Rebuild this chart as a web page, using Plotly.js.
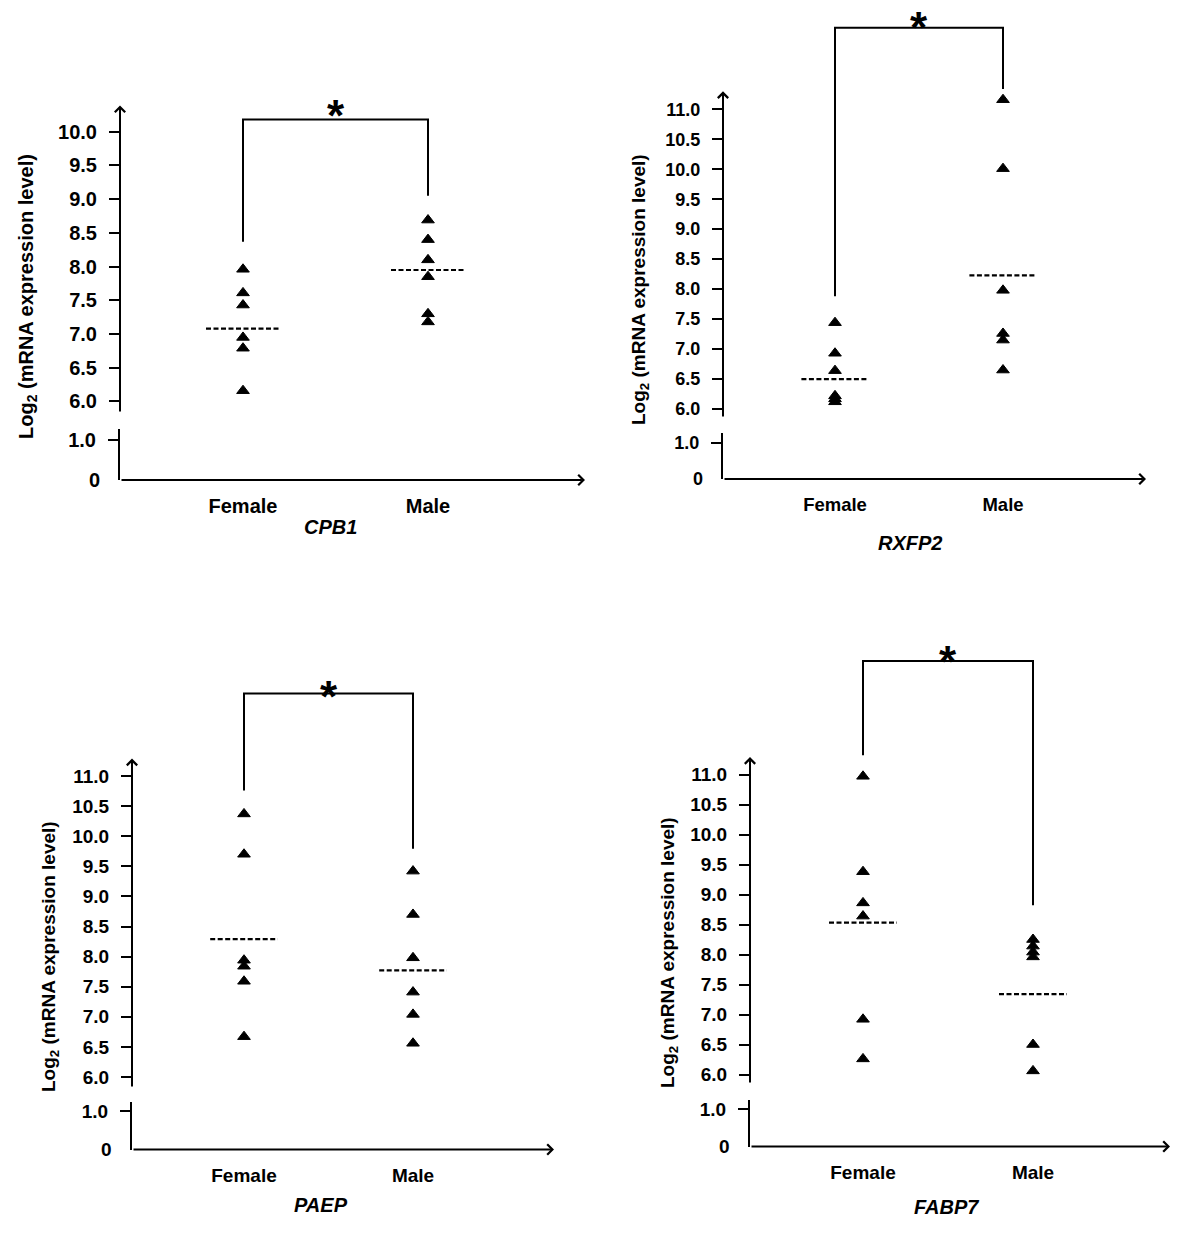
<!DOCTYPE html>
<html><head><meta charset="utf-8">
<script src="https://cdn.plot.ly/plotly-3.0.1.min.js"></script>
<style>html,body{margin:0;padding:0;background:#fff}</style>
</head><body><div id="chart" style="width:1200px;height:1237px"></div>
<script>
// ---------------- data ----------------
const groups = ["Female", "Male"];
const genes = ["CPB1", "RXFP2", "PAEP", "FABP7"];

const cpb1Female  = [7.96, 7.61, 7.43, 6.95, 6.79, 6.16];
const cpb1Male    = [8.69, 8.40, 8.10, 7.85, 7.30, 7.18];
const rxfp2Female = [7.44, 6.93, 6.64, 6.22, 6.17, 6.12];
const rxfp2Male   = [11.16, 10.01, 7.98, 7.26, 7.15, 6.65];
const paepFemale  = [10.37, 9.70, 7.94, 7.84, 7.59, 6.67];
const paepMale    = [9.42, 8.70, 7.98, 7.41, 7.04, 6.56];
const fabp7Female = [10.97, 9.38, 8.86, 8.64, 6.92, 6.26];
const fabp7Male   = [8.25, 8.14, 8.04, 7.96, 6.50, 6.06];

const medianFemale = [7.08, 6.50, 8.29, 8.53];
const medianMale   = [7.95, 8.23, 7.77, 7.34];

// significance brackets (value units)
const bracketTop   = [10.18, 12.36, 12.37, 12.89];
const bracketLeft  = [8.37, 7.88, 10.76, 11.32];
const bracketRight = [9.05, 11.34, 9.79, 8.82];
const sigLabel = ["*", "*", "*", "*"];

const upperTicks = [
  [6.0, 6.5, 7.0, 7.5, 8.0, 8.5, 9.0, 9.5, 10.0],
  [6.0, 6.5, 7.0, 7.5, 8.0, 8.5, 9.0, 9.5, 10.0, 10.5, 11.0],
  [6.0, 6.5, 7.0, 7.5, 8.0, 8.5, 9.0, 9.5, 10.0, 10.5, 11.0],
  [6.0, 6.5, 7.0, 7.5, 8.0, 8.5, 9.0, 9.5, 10.0, 10.5, 11.0]
];
const lowerTicks = [0, 1.0];
const yTitle = "Log<sub>2</sub> (mRNA expression level)";

const femaleSets = [cpb1Female, rxfp2Female, paepFemale, fabp7Female];
const maleSets = [cpb1Male, rxfp2Male, paepMale, fabp7Male];

// ---------------- geometry (pixels) ----------------
const W = 1200, H = 1237;
const FONT = "Liberation Sans, Arial, Helvetica, sans-serif";
const panels = [
  {axisX:120, xEnd:585, cat:[243,428], tA:[10,131.7], tB:[6,401.5], upBottom:413, upTopVal:10.5, arrowTip:10.39,
   xAxisY:480, tick1Y:440, lowTop:429, tickFont:20, catFont:20, titleFont:20, title:[27,297], gene:[330,527], starShift:4},
  {axisX:723, xEnd:1146, cat:[835,1003], tA:[11,109.3], tB:[6,409], upBottom:418, upTopVal:12.75, arrowTip:11.3,
   xAxisY:479, tick1Y:443, lowTop:433, tickFont:18, catFont:18.5, titleFont:19, title:[640,290], gene:[910,543], starShift:0},
  {axisX:132, xEnd:554, cat:[244,413], tA:[11,776], tB:[6,1077], upBottom:1088, upTopVal:12.75, arrowTip:11.29,
   xAxisY:1149.5, tick1Y:1111, lowTop:1102, tickFont:19, catFont:19, titleFont:19, title:[50,957], gene:[321,1205], starShift:-3},
  {axisX:750, xEnd:1170, cat:[863,1033], tA:[11,774.5], tB:[6,1074.5], upBottom:1084, upTopVal:13.25, arrowTip:11.29,
   xAxisY:1146.5, tick1Y:1109, lowTop:1100, tickFont:19, catFont:19, titleFont:19, title:[669,953], gene:[946,1207], starShift:0}
];

const TICKLEN = 10, STANDOFF = 8, MEDIAN_HALF = 0.2;
const px = v => v / W;
const py = v => 1 - v / H;

const traces = [];
const layout = {
  width: W, height: H, margin: {l:0, r:0, t:0, b:0},
  paper_bgcolor: "#fff", plot_bgcolor: "rgba(0,0,0,0)",
  showlegend: false, hovermode: false,
  font: {family: FONT, color: "#000"},
  annotations: [], shapes: []
};

panels.forEach((p, i) => {
  const xid = i === 0 ? "x" : "x" + (i + 1);
  const yUpN = 2 * i + 1, yLowN = 2 * i + 2;
  const yUp = yUpN === 1 ? "y" : "y" + yUpN;
  const yLow = "y" + yLowN;
  const xKey = i === 0 ? "xaxis" : "xaxis" + (i + 1);
  const yUpKey = yUpN === 1 ? "yaxis" : "yaxis" + yUpN;
  const yLowKey = "yaxis" + yLowN;

  // x axis
  const sx = (p.cat[1] - p.cat[0]);
  const xr = [1 - (p.cat[0] - p.axisX) / sx, 1 + (p.xEnd - p.cat[0]) / sx];
  layout[xKey] = {
    domain: [px(p.axisX), px(p.xEnd)], range: xr, anchor: yLow,
    showline: false, zeroline: false, showgrid: false, ticks: "",
    tickmode: "array", tickvals: [1, 2], ticktext: groups,
    tickfont: {family: FONT, size: p.catFont, weight: "bold", color: "#000"},
    ticklabelstandoff: 12, fixedrange: true
  };

  // upper y axis
  const s = (p.tB[1] - p.tA[1]) / (p.tA[0] - p.tB[0]);
  const valAt = pix => p.tA[0] + (p.tA[1] - pix) / s;
  const upBottomVal = valAt(p.upBottom);
  const domTopPx = p.tA[1] - (p.upTopVal - p.tA[0]) * s;
  layout[yUpKey] = {
    domain: [py(p.upBottom), py(domTopPx)], range: [upBottomVal, p.upTopVal], anchor: xid,
    showline: false, zeroline: false, showgrid: false,
    ticks: "outside", ticklen: TICKLEN, tickwidth: 2, tickcolor: "#000",
    tickmode: "array", tickvals: upperTicks[i], ticktext: upperTicks[i].map(v => v.toFixed(1)),
    tickfont: {family: FONT, size: p.tickFont, weight: "bold", color: "#000"},
    ticklabelstandoff: STANDOFF, fixedrange: true
  };

  // lower y axis
  const sL = p.xAxisY - p.tick1Y;
  const lowTopVal = (p.xAxisY - p.lowTop) / sL;
  layout[yLowKey] = {
    domain: [py(p.xAxisY), py(p.lowTop)], range: [0, lowTopVal], anchor: xid,
    showline: true, linewidth: 2, linecolor: "#000", zeroline: false, showgrid: false,
    ticks: "outside", ticklen: TICKLEN, tickwidth: 2, tickcolor: "#000",
    tickmode: "array", tickvals: [lowerTicks[1]], ticktext: [lowerTicks[1].toFixed(1)],
    tickfont: {family: FONT, size: p.tickFont, weight: "bold", color: "#000"},
    ticklabelstandoff: STANDOFF, fixedrange: true
  };

  // "0" label on lower axis (no tick mark at the origin)
  layout.annotations.push({
    xref: xid, yref: yLow, x: xr[0], y: lowerTicks[0], text: String(lowerTicks[0]),
    showarrow: false, xanchor: "right", yanchor: "middle", xshift: -(TICKLEN + STANDOFF),
    font: {family: FONT, size: p.tickFont, weight: "bold", color: "#000"}
  });

  // axis lines with arrows
  layout.annotations.push({
    xref: xid, yref: yUp, x: xr[0], y: p.arrowTip, axref: xid, ayref: yUp, ax: xr[0], ay: upBottomVal,
    text: "", showarrow: true, arrowhead: 4, arrowsize: 1, arrowwidth: 2, arrowcolor: "#000",
    standoff: 0, startstandoff: 0
  });
  layout.annotations.push({
    xref: xid, yref: yLow, x: xr[1], y: 0, axref: xid, ayref: yLow, ax: xr[0], ay: 0,
    text: "", showarrow: true, arrowhead: 4, arrowsize: 1, arrowwidth: 2, arrowcolor: "#000",
    standoff: 0, startstandoff: 0
  });

  // data points
  [femaleSets[i], maleSets[i]].forEach((vals, g) => {
    traces.push({
      type: "scatter", mode: "markers", xaxis: xid, yaxis: yUp,
      x: vals.map(() => g + 1), y: vals,
      marker: {symbol: "triangle-up", size: 11, color: "#000", line: {color: "#000", width: 1}},
      cliponaxis: false
    });
  });
  // median lines
  [medianFemale[i], medianMale[i]].forEach((m, g) => {
    traces.push({
      type: "scatter", mode: "lines", xaxis: xid, yaxis: yUp,
      x: [g + 1 - MEDIAN_HALF, g + 1 + MEDIAN_HALF], y: [m, m],
      line: {color: "#000", width: 2.2, dash: "5px,2.5px"}
    });
  });
  // significance bracket
  traces.push({
    type: "scatter", mode: "lines", xaxis: xid, yaxis: yUp,
    x: [1, 1, 2, 2], y: [bracketLeft[i], bracketTop[i], bracketTop[i], bracketRight[i]],
    line: {color: "#000", width: 2}, cliponaxis: false
  });
  layout.annotations.push({
    xref: xid, yref: yUp, x: 1.5, y: bracketTop[i], text: sigLabel[i], showarrow: false,
    xanchor: "center", yanchor: "middle", yshift: p.starShift,
    font: {family: FONT, size: 44, weight: "bold", color: "#000"}
  });

  // y-axis title
  layout.annotations.push({
    xref: "paper", yref: "paper", x: px(p.title[0]), y: py(p.title[1]), text: yTitle,
    textangle: -90, showarrow: false, xanchor: "center", yanchor: "middle",
    font: {family: FONT, size: p.titleFont, weight: "bold", color: "#000"}
  });
  // gene label
  layout.annotations.push({
    xref: "paper", yref: "paper", x: px(p.gene[0]), y: py(p.gene[1]), text: "<i>" + genes[i] + "</i>",
    showarrow: false, xanchor: "center", yanchor: "middle",
    font: {family: FONT, size: 20, weight: "bold", style: "italic", color: "#000"}
  });
});

Plotly.newPlot("chart", traces, layout, {staticPlot: true, displayModeBar: false});
</script>
</body></html>
